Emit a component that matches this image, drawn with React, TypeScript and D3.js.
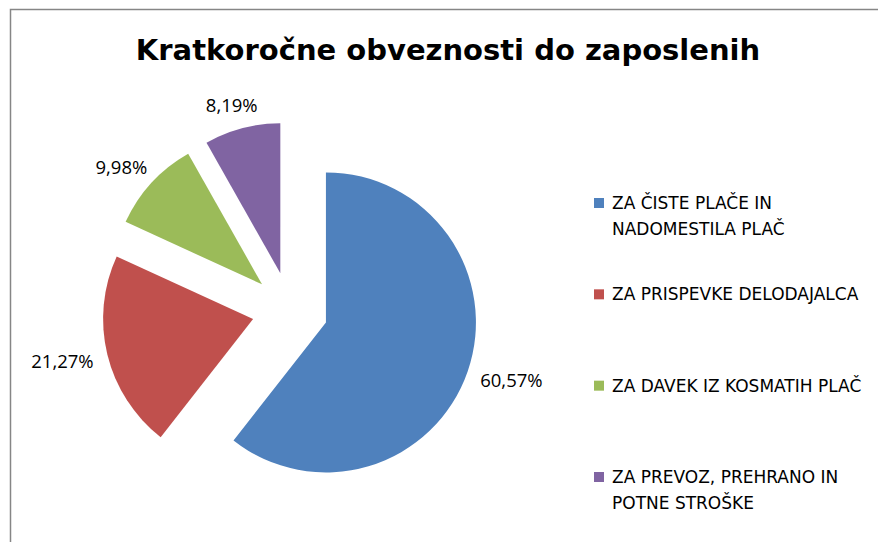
import { useEffect, useRef } from "react"
import * as d3 from "d3"

const title = "Kratkoročne obveznosti do zaposlenih"
const categories = [
    ["ZA ČISTE PLAČE IN", "NADOMESTILA PLAČ"],
    ["ZA PRISPEVKE DELODAJALCA"],
    ["ZA DAVEK IZ KOSMATIH PLAČ"],
    ["ZA PREVOZ, PREHRANO IN", "POTNE STROŠKE"],
]
const values = [60.57, 21.27, 9.98, 8.19]
const labels = ["60,57%", "21,27%", "9,98%", "8,19%"]
const colors = ["#4F81BD", "#C0504D", "#9BBB59", "#8064A2"]

export default function App() {
    const svgRef = useRef<SVGSVGElement | null>(null)

    useEffect(() => {
        document.body.style.margin = "0"
        if (!svgRef.current) return
        const svg = d3.select(svgRef.current)
        svg.selectAll("*").remove()

        const W = 878
        const H = 542
        const font = "'Open Sans', sans-serif"
        const wide = "'DejaVu Sans', sans-serif"

        // chart frame (only top and left edges are visible in the crop)
        svg.append("path")
            .attr("d", `M10.5,${H} V9.5 H${W}`)
            .attr("fill", "none")
            .attr("stroke", "#868686")
            .attr("stroke-width", 1.5)

        // title
        svg.append("text")
            .attr("x", 448)
            .attr("y", 60)
            .attr("text-anchor", "middle")
            .attr("font-family", wide)
            .attr("font-weight", "bold")
            .attr("font-size", 29)
            .attr("fill", "#000")
            .text(title)

        // pie
        const cx = 290, cy = 310
        const radius = 150
        const explode = 38
        const pie = d3.pie<number>().sort(null).value(d => d)
        const arcs = pie(values)
        const arc = d3.arc<d3.PieArcDatum<number>>().innerRadius(0).outerRadius(radius)

        const g = svg.append("g").attr("transform", `translate(${cx},${cy})`)

        arcs.forEach((a, i) => {
            const mid = (a.startAngle + a.endAngle) / 2
            const ux = Math.sin(mid), uy = -Math.cos(mid)
            const ox = ux * explode, oy = uy * explode

            g.append("path")
                .attr("transform", `translate(${ox},${oy})`)
                .attr("d", arc(a))
                .attr("fill", colors[i])

            // label: outside end, box pushed outward along the mid-angle
            const t = g.append("text")
                .attr("font-family", font)
                .attr("font-size", 18.5)
                .attr("fill", "#000")
                .attr("text-anchor", "middle")
                .attr("dominant-baseline", "central")
                .text(labels[i])
            const w = (t.node() as SVGTextElement).getComputedTextLength()
            const h = 18
            const rr = radius + 15
            const lx = ox + ux * rr + ux * w / 2
            const ly = oy + uy * rr + uy * h / 2
            t.attr("x", lx).attr("y", ly)
        })

        // legend
        const ly = d3.scaleLinear().domain([0, categories.length - 1]).range([203, 477])
        const legend = svg.append("g")
        categories.forEach((lines, i) => {
            const y0 = ly(i)
            legend.append("rect")
                .attr("x", 594)
                .attr("y", y0 - 5)
                .attr("width", 10)
                .attr("height", 10)
                .attr("fill", colors[i])
            lines.forEach((s, j) => {
                legend.append("text")
                    .attr("x", 612)
                    .attr("y", y0 + j * 26)
                    .attr("dominant-baseline", "central")
                    .attr("font-family", wide)
                    .attr("font-size", 17)
                    .attr("fill", "#000")
                    .text(s)
            })
        })
    }, [])

    return (
        <svg ref={svgRef} width={878} height={542} style={{ display: "block", background: "#fff" }} />
    )
}
